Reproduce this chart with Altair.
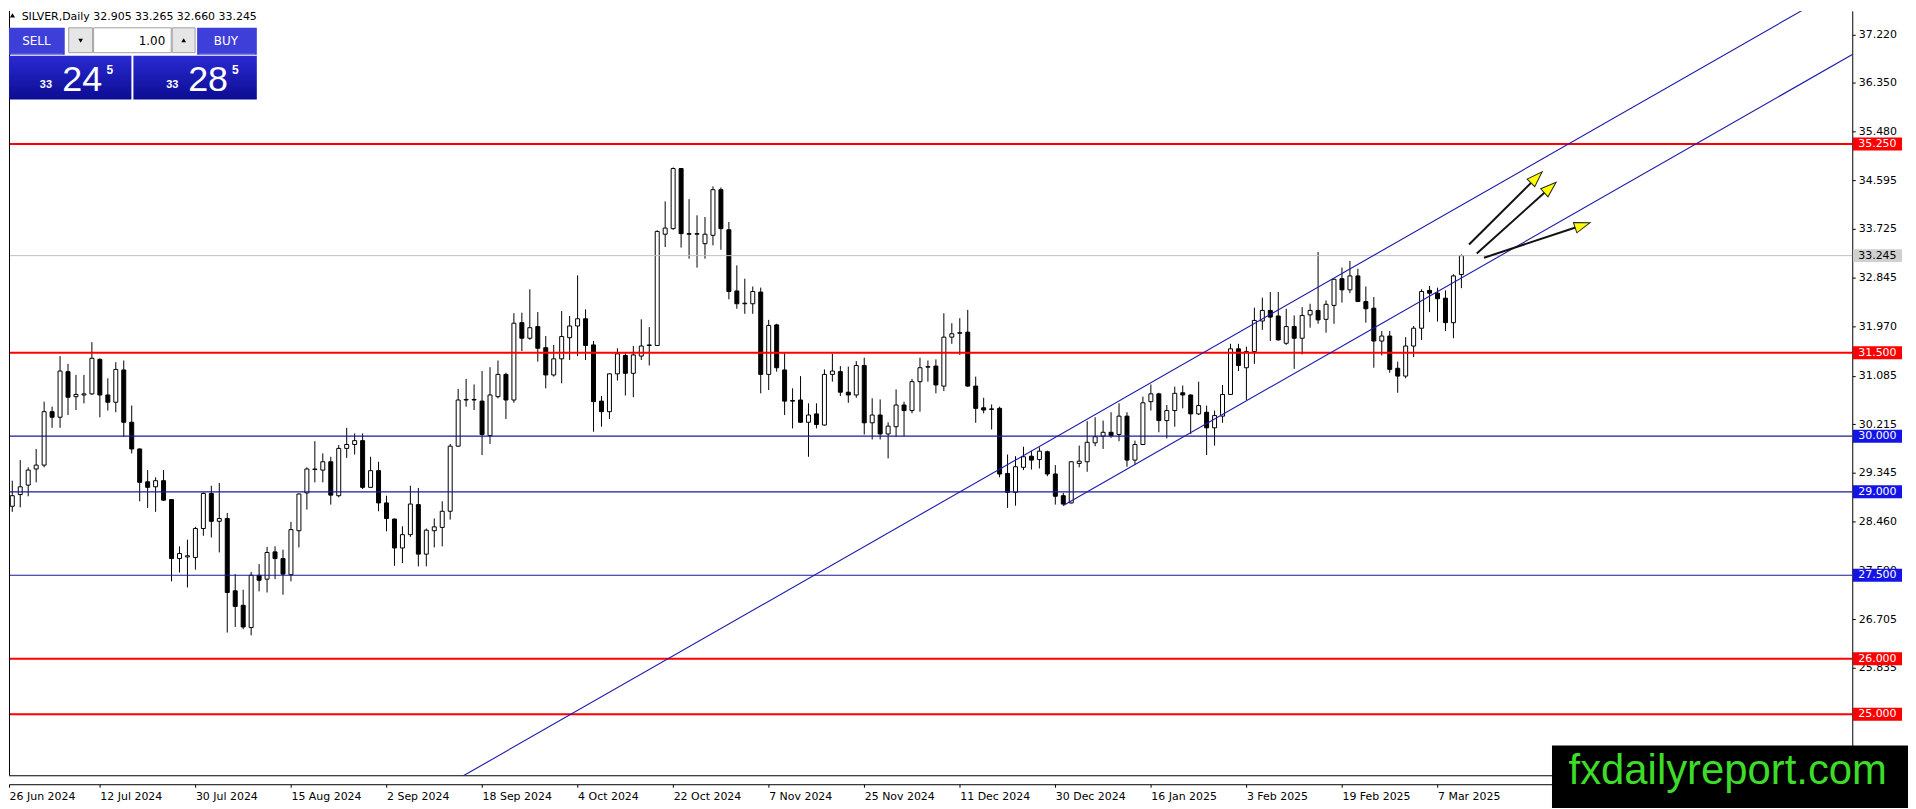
import json
import math
import numpy as np
import pandas as pd
import altair as alt

# ---------------- data ----------------
opens = [
    28.86, 28.74, 28.95, 29.12, 29.41, 29.48, 30.44, 30.34, 31.16, 30.71,
    30.74, 30.76, 31.38, 30.74, 30.61, 31.19, 30.25, 29.77, 29.18, 29.09,
    29.20, 28.86, 27.80, 27.83, 27.82, 28.34, 28.97, 28.47, 28.52, 27.22,
    26.96, 26.56, 27.50, 27.43, 27.92, 27.80, 27.51, 28.30, 28.98, 29.40,
    29.39, 29.54, 28.93, 29.78, 29.85, 29.92, 29.08, 29.38, 28.80, 28.51,
    27.99, 28.23, 28.77, 27.88, 28.30, 28.36, 28.65, 29.82, 30.65, 30.66,
    30.63, 30.01, 30.71, 31.11, 30.65, 32.04, 31.76, 31.97, 31.59, 31.10,
    31.39, 31.77, 31.98, 32.11, 31.64, 30.63, 30.44, 31.12, 31.45, 31.13,
    31.44, 31.63, 31.63, 33.63, 33.73, 34.81, 33.64, 33.63, 33.46, 33.61,
    34.43, 33.71, 32.61, 32.38, 32.38, 32.59, 31.11, 32.00, 31.19, 30.64,
    30.65, 30.25, 30.40, 30.20, 31.11, 31.16, 30.79, 30.74, 31.27, 30.24,
    30.38, 30.04, 30.17, 30.56, 30.46, 30.98, 31.24, 31.26, 30.90, 31.78,
    31.85, 31.87, 30.90, 30.51, 30.49, 30.50, 29.33, 28.99, 29.44, 29.64,
    29.58, 29.72, 29.32, 28.93, 28.80, 29.51, 29.54, 29.88, 30.00, 30.07,
    30.03, 30.36, 29.57, 29.85, 30.62, 30.76, 30.28, 30.46, 30.78, 30.74,
    30.40, 30.43, 30.15, 30.36, 30.75, 31.57, 31.23, 31.52, 32.07, 32.26,
    32.16, 31.67, 31.97, 31.76, 32.18, 32.26, 32.10, 32.35, 32.83, 32.63,
    32.88, 32.42, 32.30, 31.71, 31.80, 31.22, 31.08, 31.62, 31.94, 32.62,
    32.57, 32.48, 32.04, 32.905,
]
highs = [
    29.02, 29.20, 29.57, 29.44, 29.77, 30.62, 30.53, 31.44, 31.30, 31.10,
    31.10, 31.69, 31.40, 31.04, 31.33, 31.36, 30.55, 29.78, 29.39, 29.26,
    29.39, 28.87, 28.02, 28.14, 28.37, 28.99, 29.11, 29.16, 28.62, 27.52,
    27.24, 27.56, 27.70, 28.01, 28.02, 27.96, 28.46, 28.97, 29.44, 29.91,
    29.69, 29.63, 29.84, 30.15, 30.05, 30.05, 29.63, 29.54, 28.93, 28.52,
    28.38, 29.11, 29.07, 28.34, 28.52, 28.83, 29.86, 30.85, 31.03, 30.93,
    31.17, 31.24, 31.36, 31.14, 32.21, 32.22, 32.64, 32.23, 31.80, 31.64,
    32.25, 32.16, 32.89, 32.28, 31.71, 30.72, 31.13, 31.58, 31.49, 31.62,
    32.10, 31.96, 33.70, 34.22, 34.83, 34.82, 34.26, 33.97, 33.94, 34.49,
    34.47, 33.85, 33.07, 32.83, 32.69, 32.67, 32.09, 32.02, 31.49, 30.86,
    31.08, 30.59, 30.59, 31.20, 31.48, 31.26, 31.25, 31.35, 31.41, 30.68,
    30.66, 30.25, 30.84, 30.62, 31.03, 31.41, 31.36, 31.38, 32.21, 32.03,
    32.12, 32.27, 31.07, 30.69, 30.57, 30.53, 29.67, 29.64, 29.81, 29.74,
    29.80, 29.74, 29.48, 28.98, 29.55, 29.83, 30.27, 30.34, 30.28, 30.43,
    30.59, 30.43, 29.92, 30.71, 30.93, 30.78, 30.56, 30.89, 30.91, 30.75,
    30.98, 30.55, 30.46, 30.92, 31.66, 31.66, 31.61, 32.31, 32.49, 32.59,
    32.59, 32.29, 32.17, 32.32, 32.38, 33.31, 32.44, 32.83, 33.03, 33.15,
    33.01, 32.69, 32.50, 31.89, 31.89, 31.34, 31.78, 31.98, 32.64, 32.70,
    32.67, 32.62, 32.91, 33.265,
]
lows = [
    28.55, 28.64, 28.72, 28.92, 29.17, 29.44, 30.15, 30.15, 30.38, 30.47,
    30.59, 30.74, 30.34, 30.46, 30.43, 29.99, 29.69, 28.83, 28.71, 28.64,
    28.84, 27.39, 27.55, 27.28, 27.60, 28.21, 28.18, 27.91, 26.47, 26.57,
    26.53, 26.42, 27.21, 27.19, 27.43, 27.15, 27.39, 28.00, 28.68, 29.17,
    29.17, 28.77, 28.90, 29.61, 29.67, 29.05, 29.07, 28.65, 28.29, 27.67,
    27.72, 28.19, 27.66, 27.66, 28.00, 28.02, 28.50, 29.81, 30.53, 30.47,
    29.66, 29.86, 30.68, 30.31, 30.60, 31.53, 31.73, 31.34, 30.86, 31.07,
    30.95, 31.37, 31.44, 31.37, 30.08, 30.17, 30.31, 31.00, 30.73, 30.70,
    31.37, 31.27, 31.62, 33.40, 33.71, 33.39, 33.19, 33.03, 33.19, 33.43,
    33.35, 32.46, 32.29, 32.20, 32.20, 30.77, 30.83, 31.16, 30.38, 30.14,
    30.24, 29.63, 30.14, 30.19, 30.98, 30.72, 30.60, 30.69, 30.03, 29.94,
    29.94, 29.60, 29.99, 30.00, 30.41, 30.44, 30.98, 30.77, 30.81, 31.66,
    31.46, 30.89, 30.24, 30.41, 30.12, 29.26, 28.71, 28.75, 29.39, 29.40,
    29.42, 29.28, 28.77, 28.75, 28.79, 29.44, 29.36, 29.82, 29.77, 29.97,
    29.91, 29.45, 29.48, 29.84, 30.46, 30.07, 29.96, 30.17, 30.50, 30.04,
    30.38, 29.66, 29.83, 30.24, 30.74, 31.17, 30.65, 31.30, 31.91, 31.71,
    31.72, 31.64, 31.21, 31.47, 31.95, 32.02, 31.86, 32.02, 32.40, 32.57,
    32.41, 32.04, 31.23, 31.45, 31.14, 30.78, 31.04, 31.42, 31.73, 32.23,
    32.06, 31.89, 31.76, 32.660,
]
closes = [
    28.72, 28.93, 29.09, 29.39, 29.48, 30.44, 30.34, 31.17, 30.70, 30.75,
    30.76, 31.40, 30.74, 30.61, 31.20, 30.25, 29.77, 29.17, 29.08, 29.20,
    28.85, 27.80, 27.89, 27.85, 28.34, 28.97, 28.47, 28.52, 27.19, 26.94,
    26.57, 27.50, 27.41, 27.91, 27.80, 27.52, 28.32, 28.96, 29.41, 29.41,
    29.54, 28.94, 29.78, 29.85, 29.92, 29.08, 29.38, 28.80, 28.52, 27.99,
    28.23, 28.78, 27.88, 28.31, 28.37, 28.65, 29.82, 30.65, 30.66, 30.65,
    30.03, 30.74, 31.11, 30.65, 32.03, 31.76, 31.95, 31.58, 31.10, 31.39,
    31.79, 31.98, 32.11, 31.63, 30.62, 30.44, 31.12, 31.48, 31.13, 31.46,
    31.62, 31.64, 33.68, 33.74, 34.81, 33.64, 33.63, 33.64, 33.63, 34.43,
    33.73, 32.60, 32.38, 32.39, 32.60, 31.11, 31.99, 31.23, 30.63, 30.63,
    30.25, 30.38, 30.21, 31.11, 31.17, 30.79, 30.74, 31.27, 30.24, 30.38,
    30.04, 30.18, 30.56, 30.46, 30.98, 31.23, 31.25, 30.92, 31.78, 31.84,
    31.86, 30.90, 30.50, 30.47, 30.48, 29.32, 28.99, 29.45, 29.63, 29.57,
    29.73, 29.32, 28.92, 28.78, 29.54, 29.55, 29.89, 29.99, 30.07, 30.01,
    30.36, 29.57, 29.85, 30.60, 30.76, 30.28, 30.46, 30.77, 30.74, 30.40,
    30.55, 30.15, 30.37, 30.75, 31.57, 31.27, 31.52, 32.08, 32.26, 32.14,
    31.73, 31.97, 31.76, 32.17, 32.26, 32.09, 32.37, 32.82, 32.63, 32.88,
    32.42, 32.29, 31.71, 31.80, 31.20, 31.08, 31.62, 31.94, 32.60, 32.57,
    32.47, 32.04, 32.88, 33.245,
]

tick_labels = [
    "26 Jun 2024", "12 Jul 2024", "30 Jul 2024", "15 Aug 2024", "2 Sep 2024",
    "18 Sep 2024", "4 Oct 2024", "22 Oct 2024", "7 Nov 2024", "25 Nov 2024",
    "11 Dec 2024", "30 Dec 2024", "16 Jan 2025", "3 Feb 2025", "19 Feb 2025",
    "7 Mar 2025",
]
price_ticks = [37.220, 36.350, 35.480, 34.595, 33.725, 32.845, 31.970,
               31.085, 30.215, 29.345, 28.460, 27.590, 26.705, 25.835]

red_levels = [35.25, 31.5, 26.0, 25.0]
blue_levels = [30.0, 29.0, 27.5]
bid_price = 33.245

# channel lines (bar index, price)
upper_k = [50.0, 232.0]
upper_p = [23.27, 38.16]
lower_k = [133.0, 232.1]
lower_p = [28.753, 36.86]

# arrows (bar index, price)
arrow_tail_k = [183.96, 184.93, 185.84]
arrow_tail_p = [33.445, 33.284, 33.207]
arrow_tip_k = [193.09, 194.84, 199.10]
arrow_tip_p = [34.746, 34.558, 33.834]

title_text = "SILVER,Daily  32.905 33.265 32.660 33.245"

# ---------------- layout ----------------
FONT = "DejaVu Sans"
W, H = 1852, 768
XMIN, XMAX = 0.5875, 232.09
YMIN, YMAX = 23.905, 37.644
PX_K = W / (XMAX - XMIN)
PX_P = H / (YMAX - YMIN)

xs = alt.Scale(domain=[XMIN, XMAX], nice=False, zero=False, padding=0)
ys = alt.Scale(domain=[YMIN, YMAX], nice=False, zero=False, padding=0)

tick_pos = [0.6] + [12 * i for i in range(1, len(tick_labels))]
label_expr = json.dumps(tick_labels) + "[round(datum.value / 12)]"

xax = alt.Axis(orient="bottom", offset=9, values=tick_pos, labelExpr=label_expr,
               labelAlign="left", labelBaseline="top", labelPadding=3,
               labelFont=FONT, labelFontSize=11, labelColor="black",
               tickColor="black", tickSize=3, domainColor="black", domainWidth=1,
               grid=False, title=None, labelFlush=False, labelOverlap=False)
yax = alt.Axis(orient="right", values=price_ticks, format=".3f",
               labelFont=FONT, labelFontSize=11, labelColor="black",
               labelBaseline="middle", labelPadding=3, tickColor="black",
               tickSize=3, domainColor="black", domainWidth=1, grid=False,
               title=None, labelFlush=False, labelOverlap=False)


def X(f):
    return alt.X(f"{f}:Q", scale=xs, axis=xax)


def Y(f):
    return alt.Y(f"{f}:Q", scale=ys, axis=yax)


one = pd.DataFrame({"a": [0]})


def rect(x0, y0, x1, y1, **mk):
    return alt.Chart(one).mark_rect(**mk).encode(
        x=alt.value(x0), x2=alt.value(x1), y=alt.value(y0), y2=alt.value(y1))


def text(x, y, s, **mk):
    return alt.Chart(one).mark_text(text=s, **mk).encode(x=alt.value(x), y=alt.value(y))


candles = pd.DataFrame({"k": list(range(len(opens))), "open": opens, "high": highs,
                        "low": lows, "close": closes})
candles["fill"] = np.where(candles["close"] >= candles["open"], "white", "black")

wicks = alt.Chart(candles).mark_rule(color="black", strokeWidth=1, clip=True).encode(
    x=X("k"), y=Y("low"), y2="high")
bodies = alt.Chart(candles).mark_bar(size=4, stroke="black", strokeWidth=1, clip=True).encode(
    x=X("k"), y=Y("open"), y2="close", fill=alt.Fill("fill:N", scale=None))

red_rules = alt.Chart(pd.DataFrame({"p": red_levels})).mark_rule(
    color="#ff0000", strokeWidth=2).encode(y=Y("p"))
blue_rules = alt.Chart(pd.DataFrame({"p": blue_levels})).mark_rule(
    color="#1a1a96", strokeWidth=1.2).encode(y=Y("p"))
bid_rule = alt.Chart(pd.DataFrame({"p": [bid_price]})).mark_rule(
    color="#c0c0c0", strokeWidth=1).encode(y=Y("p"))

tl = pd.DataFrame({"k": upper_k + lower_k, "p": upper_p + lower_p,
                   "line": ["u", "u", "l", "l"]})
trend = alt.Chart(tl).mark_line(color="#1a1aaa", strokeWidth=1.1, clip=True).encode(
    x=X("k"), y=Y("p"), detail="line:N")

# arrows
ar = pd.DataFrame({"k0": arrow_tail_k, "p0": arrow_tail_p,
                   "k1": arrow_tip_k, "p1": arrow_tip_p})
dxp = (ar["k1"] - ar["k0"]) * PX_K
dyp = (ar["p1"] - ar["p0"]) * PX_P
theta = np.arctan2(dyp, dxp)
ar["ang"] = 90 - np.degrees(theta)
back = 8.5
ar["hk"] = ar["k1"] - back * np.cos(theta) / PX_K
ar["hp"] = ar["p1"] - back * np.sin(theta) / PX_P
shafts = alt.Chart(ar).mark_rule(color="#111111", strokeWidth=2).encode(
    x=X("k0"), x2="hk", y=Y("p0"), y2="hp")
heads = alt.Chart(ar).mark_point(
    shape="M0,-1L0.6,0.75L-0.6,0.75Z", filled=True, fill="#ffff00", stroke="#222222",
    strokeWidth=1, size=330, opacity=1).encode(
    x=X("hk"), y=Y("hp"), angle=alt.Angle("ang:Q", scale=None))

# price tags on the axis
tag_p = [35.25, bid_price, 31.5, 30.0, 29.0, 27.5, 26.0, 25.0]
tag_bg = ["#ff0000", "#d0d0d0", "#ff0000", "#1414e6", "#1414e6", "#1414e6", "#ff0000", "#ff0000"]
tag_fg = ["white", "black", "white", "white", "white", "white", "white", "white"]
half = 6.5 / PX_P
tags = pd.DataFrame({"p": tag_p, "lo": [v - half for v in tag_p], "hi": [v + half for v in tag_p],
                     "bg": tag_bg, "fg": tag_fg, "txt": [f"{v:.3f}" for v in tag_p]})
tag_rects = alt.Chart(tags).mark_rect().encode(
    x=alt.value(W + 0.7), x2=alt.value(W + 50), y=Y("lo"), y2="hi",
    fill=alt.Fill("bg:N", scale=None))
tag_text = alt.Chart(tags).mark_text(align="left", baseline="middle", font=FONT, fontSize=11).encode(
    x=alt.value(W + 6), y=Y("p"), text="txt:N", fill=alt.Fill("fg:N", scale=None))

# one-click trading panel
grad = alt.Gradient(gradient="linear",
                    stops=[alt.GradientStop(color="#2a2ad2", offset=0),
                           alt.GradientStop(color="#0c0c92", offset=1)],
                    x1=0, x2=0, y1=0, y2=1)
panel = [
    rect(0, 17, 56, 44, fill="#3e3ed8"),
    rect(189, 17, 249, 44, fill="#3e3ed8"),
    rect(60, 17, 84, 42, fill="#e6e6e6", stroke="#a0a0a0", strokeWidth=1),
    rect(85, 17, 163, 42, fill="white", stroke="#a0a0a0", strokeWidth=1),
    rect(164, 17, 187, 42, fill="#e6e6e6", stroke="#a0a0a0", strokeWidth=1),
    rect(0, 45, 123, 89, fill=grad),
    rect(125, 45, 249, 89, fill=grad),
    rect(2, 43, 54, 44, fill="#8c8ce6"),
    rect(191, 43, 247, 44, fill="#8c8ce6"),
    alt.Chart(one).mark_point(shape="triangle-down", filled=True, color="black", size=22,
                              opacity=1).encode(x=alt.value(72), y=alt.value(30)),
    alt.Chart(one).mark_point(shape="triangle-up", filled=True, color="black", size=22,
                              opacity=1).encode(x=alt.value(175.5), y=alt.value(29.5)),
    alt.Chart(one).mark_point(shape="triangle-up", filled=True, color="black", size=26,
                              opacity=1).encode(x=alt.value(3.5), y=alt.value(4.5)),
    text(12.7, 0.5, title_text, align="left", baseline="top", font=FONT, fontSize=11, color="black"),
    text(27.5, 30.5, "SELL", align="center", baseline="middle", font=FONT, fontSize=12, color="white"),
    text(218, 30.5, "BUY", align="center", baseline="middle", font=FONT, fontSize=12, color="white"),
    text(157, 30.5, "1.00", align="right", baseline="middle", font=FONT, fontSize=12, color="black"),
    text(31, 77, "33", align="left", baseline="alphabetic", font="Liberation Sans",
         fontSize=11, fontWeight="bold", color="white"),
    text(53.5, 80, "24", align="left", baseline="alphabetic", font="Liberation Sans",
         fontSize=36, color="white"),
    text(98, 63, "5", align="left", baseline="alphabetic", font="Liberation Sans",
         fontSize=12, fontWeight="bold", color="white"),
    text(158, 77, "33", align="left", baseline="alphabetic", font="Liberation Sans",
         fontSize=11, fontWeight="bold", color="white"),
    text(180, 80, "28", align="left", baseline="alphabetic", font="Liberation Sans",
         fontSize=36, color="white"),
    text(224, 63, "5", align="left", baseline="alphabetic", font="Liberation Sans",
         fontSize=12, fontWeight="bold", color="white"),
]

borders = [
    alt.Chart(one).mark_rule(color="black", strokeWidth=1).encode(
        x=alt.value(0.5), y=alt.value(0), y2=alt.value(H)),
    alt.Chart(one).mark_rule(color="black", strokeWidth=1).encode(
        x=alt.value(0), x2=alt.value(W), y=alt.value(H + 0.5)),
]

watermark = [
    rect(1550.3, 738, 1908, 801, fill="black"),
    text(1567, 777, "fxdailyreport.com", align="left", baseline="alphabetic",
         font="Liberation Sans", fontSize=42, color="#3cdc28"),
]

layers = [wicks, bodies, red_rules, blue_rules, bid_rule, trend, shafts, heads,
          tag_rects, tag_text] + borders + panel + watermark

chart = alt.layer(*layers).properties(
    width=W, height=H, padding=0, background="white"
).configure_view(strokeWidth=0)

chart.save("out.html", embed_options={"renderer": "svg", "actions": False})
